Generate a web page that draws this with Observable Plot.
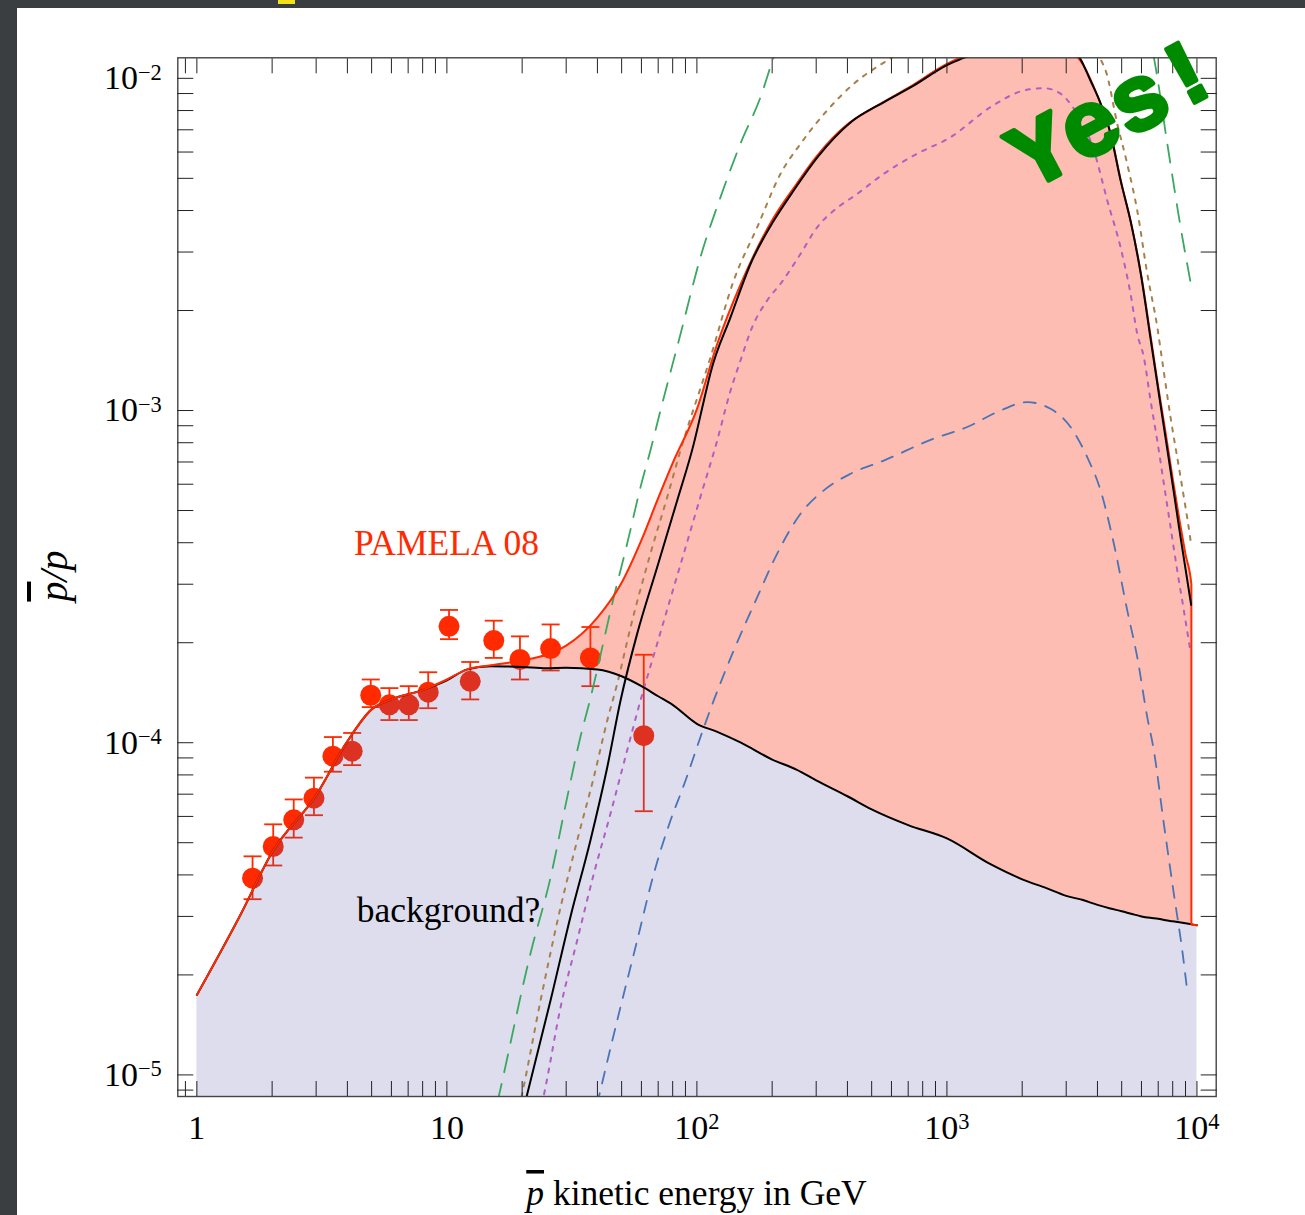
<!DOCTYPE html>
<html>
<head>
<meta charset="utf-8">
<script src="https://cdn.jsdelivr.net/npm/d3@7"></script>
<script src="https://cdn.jsdelivr.net/npm/@observablehq/plot@0.6"></script>
<style>
  html, body { margin: 0; padding: 0; }
  body { width: 1305px; height: 1215px; background: #3b3e41; position: relative; overflow: hidden; }
  #panel { position: absolute; left: 17px; top: 8px; width: 1288px; height: 1207px; background: #fff; }
  #panel svg { display: block; }
  #marker { position: absolute; left: 278px; top: 0; width: 17px; height: 4px; background: #f2e21a; }
</style>
</head>
<body>
<div id="marker"></div>
<div id="panel"></div>
<script>
// PAMELA 2008 antiproton / proton ratio
const pamelaEnergy = [1.67, 2.02, 2.44, 2.94, 3.50, 4.18, 4.96, 5.89, 7.04, 8.42, 10.2, 12.4, 15.4, 19.6, 26.0, 37.5, 61.3];
const pamelaRatio  = [3.91e-5, 4.87e-5, 5.86e-5, 6.81e-5, 9.11e-5, 9.43e-5, 1.39e-4, 1.30e-4, 1.30e-4, 1.42e-4, 2.24e-4, 1.53e-4, 2.03e-4, 1.78e-4, 1.92e-4, 1.80e-4, 1.05e-4];
const pamelaLow    = [3.38e-5, 4.27e-5, 5.18e-5, 6.05e-5, 8.18e-5, 8.56e-5, 1.28e-4, 1.17e-4, 1.17e-4, 1.27e-4, 2.05e-4, 1.35e-4, 1.80e-4, 1.55e-4, 1.65e-4, 1.48e-4, 6.22e-5];
const pamelaHigh   = [4.55e-5, 5.68e-5, 6.75e-5, 7.85e-5, 1.04e-4, 1.07e-4, 1.55e-4, 1.46e-4, 1.48e-4, 1.63e-4, 2.51e-4, 1.75e-4, 2.33e-4, 2.09e-4, 2.27e-4, 2.23e-4, 1.84e-4];

// Astrophysical background and background + dark-matter total on a common energy grid (GeV)
const gridEnergy = [1, 1.5, 2, 3, 4, 5, 6, 8, 10, 12, 15, 20, 25, 30, 40, 50, 60, 70, 80, 100,
  120, 150, 200, 250, 300, 400, 500, 700, 1000, 1500, 2000, 2500, 3000, 3500, 4000, 4500, 5000, 5500, 6000, 6500,
  7000, 7500, 8000, 8500, 9000, 9500, 9500, 10000];
const backgroundRatio = [1.74e-5, 3.05e-5, 4.68e-5, 6.95e-5, 1.01e-4, 1.26e-4, 1.35e-4, 1.44e-4, 1.54e-4, 1.66e-4,
  1.70e-4, 1.69e-4, 1.675e-4, 1.68e-4, 1.66e-4, 1.585e-4, 1.48e-4, 1.38e-4, 1.30e-4, 1.14e-4,
  1.08e-4, 1.0e-4, 8.9e-5, 8.3e-5, 7.7e-5, 6.9e-5, 6.3e-5, 5.65e-5, 5.15e-5, 4.3e-5,
  3.88e-5, 3.65e-5, 3.46e-5, 3.36e-5, 3.25e-5, 3.17e-5, 3.11e-5, 3.05e-5, 3.0e-5, 2.97e-5,
  2.95e-5, 2.92e-5, 2.90e-5, 2.88e-5, 2.86e-5, 2.84e-5, 2.84e-5, 2.82e-5];
const totalRatio = [1.74e-5, 3.05e-5, 4.68e-5, 6.95e-5, 1.01e-4, 1.26e-4, 1.35e-4, 1.44e-4, 1.55e-4, 1.66e-4,
  1.71e-4, 1.77e-4, 1.84e-4, 1.96e-4, 2.38e-4, 3.03e-4, 4.07e-4, 5.45e-4, 6.95e-4, 1.01e-3,
  1.57e-3, 2.41e-3, 3.74e-3, 4.8e-3, 5.8e-3, 7.27e-3, 8.09e-3, 9.36e-3, 1.105e-2, 1.25e-2,
  1.32e-2, 1.33e-2, 1.25e-2, 1.10e-2, 8.85e-3, 6.9e-3, 4.79e-3, 3.56e-3, 2.53e-3, 1.71e-3,
  1.18e-3, 8.53e-4, 6.24e-4, 4.71e-4, 3.69e-4, 3.0e-4, 2.84e-5, 2.82e-5];

// Dark-matter signal (solid black)
const signalEnergy = [20, 26, 31.2, 37.5, 43.8, 49.5, 57.7, 69.4, 83.4, 97.2, 106.6, 113.4, 136.7, 164.5, 204, 245, 305, 415, 563, 724,
  1010, 1160, 1500, 2000, 2500, 3000, 3390, 3750, 4120, 4510, 4950, 5430, 5950, 6520, 7150, 7840, 8600, 9480];
const signalRatio = [7.6e-6, 1.68e-5, 2.99e-5, 5.08e-5, 8.44e-5, 1.34e-4, 2.13e-4, 3.38e-4, 5.36e-4, 7.95e-4,
  1.07e-3, 1.30e-3, 1.92e-3, 2.78e-3, 3.75e-3, 4.62e-3, 5.81e-3, 7.40e-3, 8.50e-3, 9.44e-3,
  1.10e-2, 1.15e-2, 1.24e-2, 1.31e-2, 1.32e-2, 1.24e-2, 1.156e-2, 9.85e-3, 8.4e-3, 6.82e-3,
  4.93e-3, 3.71e-3, 2.60e-3, 1.65e-3, 1.04e-3, 6.6e-4, 4.15e-4, 2.6e-4];

// Alternative signal curves
const greenEnergy = [15, 16.1, 21.6, 26.0, 30.3, 34.2, 37.5, 46.5, 52.6, 59.5, 65.2, 71.5, 86.0, 103.4, 124.3, 149.4, 179.7, 203,
  300, 500, 1000, 2000, 4000, 5500, 6720, 7610, 8600, 9510];
const greenRatio = [6.8e-6, 8.57e-6, 2.32e-5, 3.94e-5, 6.86e-5, 1.04e-4, 1.36e-4, 2.74e-4, 3.97e-4, 5.88e-4, 7.59e-4, 1.0e-3, 1.70e-3, 2.90e-3, 4.39e-3, 6.36e-3, 8.78e-3, 1.158e-2,
  1.8e-2, 2.6e-2, 3.3e-2, 3.6e-2, 2.8e-2, 1.8e-2, 1.158e-2, 6.36e-3, 3.57e-3, 2.35e-3];

const brownEnergy = [19, 20, 23.7, 28.5, 33.2, 38.7, 43.8, 48.0, 54.3, 65.2, 76.1, 86.0, 113.4, 140.4, 174.3, 216, 260, 332, 424, 577,
  800, 1500, 2500, 3500, 4310, 4800, 5260, 5770, 6330, 6940, 7260, 7840, 8600, 9430, 9500];
const brownRatio = [7.4e-6, 8.78e-6, 1.676e-5, 3.2e-5, 5.08e-5, 7.88e-5, 1.167e-4, 1.505e-4, 2.228e-4, 3.71e-4,
  5.49e-4, 7.59e-4, 1.448e-3, 2.464e-3, 3.565e-3, 5.16e-3, 6.36e-3, 8.01e-3, 9.63e-3, 1.132e-2,
  1.3e-2, 1.45e-2, 1.45e-2, 1.3e-2, 1.057e-2, 7.3e-3, 5.53e-3, 4.0e-3, 2.58e-3, 1.783e-3,
  1.415e-3, 9.55e-4, 6.3e-4, 4.06e-4, 3.9e-4];

const purpleEnergy = [23, 24.8, 28.5, 33.2, 38.7, 45.1, 52.6, 59.5, 69.4, 78.4, 88.6, 103.4, 120.6, 135, 149.4, 166.4, 191, 216, 260, 303,
  353, 438, 559, 760, 1034, 1494, 2030, 2441, 2847, 3218, 3870, 4378, 4948, 5425, 5770, 6132, 6522, 6937, 7373, 7842,
  8340, 8864, 9428];
const purpleRatio = [7.0e-6, 9.19e-6, 1.6e-5, 2.54e-5, 4.03e-5, 6.11e-5, 9.48e-5, 1.341e-4, 1.99e-4, 2.72e-4,
  3.71e-4, 5.51e-4, 8.13e-4, 1.12e-3, 1.415e-3, 1.783e-3, 2.145e-3, 2.408e-3, 2.965e-3, 3.565e-3,
  4.0e-3, 4.49e-3, 5.16e-3, 5.93e-3, 6.65e-3, 8.19e-3, 9.19e-3, 9.34e-3, 8.99e-3, 8.1e-3,
  6.07e-3, 4.29e-3, 3.10e-3, 2.246e-3, 1.702e-3, 1.447e-3, 1.073e-3, 8.13e-4, 6.02e-4, 4.46e-4,
  3.30e-4, 2.502e-4, 1.873e-4];

const blueEnergy = [38, 40.5, 48.0, 57.7, 67.2, 78.4, 88.6, 106.6, 116.8, 140.4, 174.3, 209.5, 259.7, 321.8, 411.6, 559, 886, 1206, 1638, 2095,
  2597, 3122, 3640, 4116, 4653, 5263, 5770, 6327, 6723, 7373, 8083, 8734, 9171];
const blueRatio = [7.0e-6, 8.57e-6, 1.459e-5, 2.54e-5, 4.03e-5, 5.83e-5, 7.44e-5, 1.112e-4, 1.341e-4, 1.896e-4,
  2.743e-4, 3.71e-4, 4.89e-4, 5.75e-4, 6.45e-4, 7.07e-4, 8.23e-4, 8.92e-4, 1.0e-3, 1.06e-3,
  1.012e-3, 8.92e-4, 7.24e-4, 5.75e-4, 3.97e-4, 2.502e-4, 1.81e-4, 1.194e-4, 9.48e-5, 5.70e-5,
  3.51e-5, 2.37e-5, 1.759e-5];

// Axis decades and their labels
const xDecades = [1, 10, 100, 1000, 10000];
const xDecadeLabels = ["1", "10", "10^2", "10^3", "10^4"];
const yDecades = [1e-5, 1e-4, 1e-3, 1e-2];
const yDecadeLabels = ["10^\u22125", "10^\u22124", "10^\u22123", "10^\u22122"];

// Text annotations
const noteText = ["PAMELA 08", "background?"];
const noteEnergy = [9.96, 10.15];
const noteRatio = [3.98e-4, 3.13e-5];
const noteColor = ["#ff2a00", "#000000"];
const shoutText = ["Yes!"];
const shoutEnergy = [4640];
const shoutRatio = [7.9e-3];

const xDomain = [0.839, 11940];
const yDomain = [8.61e-6, 0.01153];

// ---- tables for the marks ----
const zipRows = (xs, ys) => xs.map((x, i) => ({energy: x, ratio: ys[i]}));
const grid = gridEnergy.map((e, i) => ({energy: e, background: backgroundRatio[i], total: totalRatio[i]}));
const pamela = pamelaEnergy.map((e, i) => ({energy: e, ratio: pamelaRatio[i], low: pamelaLow[i], high: pamelaHigh[i]}));
const signal = zipRows(signalEnergy, signalRatio);
const green = zipRows(greenEnergy, greenRatio);
const brown = zipRows(brownEnergy, brownRatio);
const purple = zipRows(purpleEnergy, purpleRatio);
const blue = zipRows(blueEnergy, blueRatio);
const notes = noteText.map((t, i) => ({text: t, energy: noteEnergy[i], ratio: noteRatio[i], color: noteColor[i]}));
const shout = shoutText.map((t, i) => ({text: t, energy: shoutEnergy[i], ratio: shoutRatio[i]}));

const decadeMultiples = (decades) => d3.merge(decades.map(d => d3.range(1, 10).map(k => k * d)));
const xTicks = [0.9, ...decadeMultiples([1, 10, 100, 1000]), 10000];
const yTicks = [9e-6, ...decadeMultiples([1e-5, 1e-4, 1e-3]), 1e-2];
const labelFor = (decades, labels) => (d) => {
  const i = decades.findIndex(v => Math.abs(v - d) / v < 1e-6);
  return i >= 0 ? labels[i] : "";
};

// Horizontal bar used as an error-bar cap
const capSymbol = {
  draw(context, size) {
    const w = Math.sqrt(size / Math.PI);
    context.moveTo(-w, 0);
    context.lineTo(w, 0);
  }
};

const RED = "#ff2a00";
const CURVE = "monotone-x";
const tickStyle = {stroke: "#222", strokeWidth: 1};

const chart = Plot.plot({
  width: 1288,
  height: 1207,
  marginLeft: 160.3,
  marginRight: 89.3,
  marginTop: 49.3,
  marginBottom: 119,
  x: {type: "log", domain: xDomain, label: null},
  y: {type: "log", domain: yDomain, label: null},
  style: {fontFamily: "'Liberation Serif', 'Times New Roman', serif", fontSize: "34px", background: "white", color: "#000"},
  marks: [
    // excess above background
    Plot.areaY(grid, {x: "energy", y1: "background", y2: "total", curve: CURVE, fill: "rgb(250,90,65)", fillOpacity: 0.4, clip: true}),
    // data with error bars
    Plot.ruleX(pamela, {x: "energy", y1: "low", y2: "high", stroke: RED, strokeWidth: 1.8}),
    Plot.dot(pamela, {x: "energy", y: "low", symbol: capSymbol, r: 9, stroke: RED, strokeWidth: 1.8}),
    Plot.dot(pamela, {x: "energy", y: "high", symbol: capSymbol, r: 9, stroke: RED, strokeWidth: 1.8}),
    Plot.dot(pamela, {x: "energy", y: "ratio", r: 10.5, fill: RED, stroke: "none"}),
    // background band, translucent over the data
    Plot.areaY(grid, {x: "energy", y1: () => yDomain[0], y2: "background", curve: CURVE, fill: "rgb(85,85,170)", fillOpacity: 0.2, clip: true}),
    // alternative signals
    Plot.line(green, {x: "energy", y: "ratio", curve: CURVE, stroke: "#3aa85e", strokeWidth: 1.8, strokeDasharray: "18,12", clip: true}),
    Plot.line(brown, {x: "energy", y: "ratio", curve: CURVE, stroke: "#a8804c", strokeWidth: 2, strokeDasharray: "4,7", clip: true}),
    Plot.line(purple, {x: "energy", y: "ratio", curve: CURVE, stroke: "#b060c0", strokeWidth: 2, strokeDasharray: "4,7", clip: true}),
    Plot.line(blue, {x: "energy", y: "ratio", curve: CURVE, stroke: "#4a74b4", strokeWidth: 1.8, strokeDasharray: "12,10", clip: true}),
    // background, total, signal
    Plot.line(grid, {x: "energy", y: "background", curve: CURVE, stroke: "#000", strokeWidth: 2, clip: true}),
    Plot.line(grid, {x: "energy", y: "total", curve: CURVE, stroke: RED, strokeWidth: 2, clip: true}),
    Plot.line(signal, {x: "energy", y: "ratio", curve: CURVE, stroke: "#000", strokeWidth: 2, clip: true}),
    // frame with inward ticks on all four sides
    Plot.frame({stroke: "#444", strokeWidth: 1.4}),
    Plot.axisX(xTicks, {anchor: "bottom", tickSize: 15, dy: -15, tickPadding: 18, tickFormat: labelFor(xDecades, xDecadeLabels), ...tickStyle}),
    Plot.axisX(xTicks, {anchor: "top", tickSize: 15, dy: 15, tickFormat: () => "", ...tickStyle}),
    Plot.axisY(yTicks, {anchor: "left", tickSize: 16, dx: 16, tickPadding: 16, tickFormat: labelFor(yDecades, yDecadeLabels), ...tickStyle}),
    Plot.axisY(yTicks, {anchor: "right", tickSize: 16, dx: -16, tickFormat: () => "", ...tickStyle}),
    // annotations
    Plot.text(notes, {x: "energy", y: "ratio", text: "text", fill: "color", fontSize: 35.5, textAnchor: "middle"}),
    Plot.text(shout, {x: "energy", y: "ratio", text: "text", rotate: -28, fill: "#008a00", stroke: "#008a00", strokeWidth: 4.5,
      strokeLinejoin: "round", fontFamily: "'Liberation Mono', 'Courier New', monospace", fontWeight: "bold", fontSize: 92, textAnchor: "middle"})
  ]
});

// superscript exponents in the decade labels
const svg = d3.select(chart);
svg.selectAll("text").each(function() {
  const m = /^10\^(.+)$/.exec(this.textContent);
  if (!m) return;
  const t = d3.select(this);
  t.text("10");
  t.append("tspan").attr("dy", "-0.42em").attr("font-size", "0.66em").text(m[1]);
});

// axis titles
const xTitle = svg.append("text")
  .attr("x", 679.5).attr("y", 1197)
  .attr("text-anchor", "middle")
  .attr("font-size", 35.5);
xTitle.append("tspan").attr("font-style", "italic").style("text-decoration", "overline").text("p");
xTitle.append("tspan").text(" kinetic energy in GeV");

const yTitle = svg.append("text")
  .attr("transform", "translate(50,568) rotate(-90)")
  .attr("text-anchor", "middle")
  .attr("font-size", 40)
  .attr("font-style", "italic");
yTitle.append("tspan").style("text-decoration", "overline").text("p");
yTitle.append("tspan").text("/p");

document.getElementById("panel").appendChild(chart);
</script>
</body>
</html>
